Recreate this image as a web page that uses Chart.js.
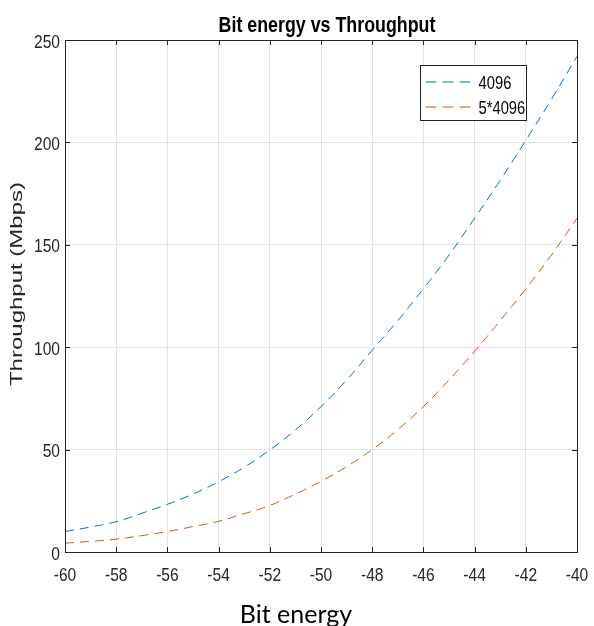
<!DOCTYPE html>
<html lang="en">
<head>
<meta charset="UTF-8">
<title>Bit energy vs Throughput</title>
<script src="https://cdn.jsdelivr.net/npm/chart.js"></script>
<style>
  body { margin: 0; background: #fff; }
</style>
</head>
<body>
<canvas id="myChart" width="594" height="626"></canvas>
<script>
// values
const bitEnergy = [-60, -59, -58, -57, -56, -55, -54, -53, -52, -51, -50,
                   -49, -48, -47, -46, -45, -44, -43, -42, -41, -40];
const tput4096 = [10, 12.2, 14.8, 18.9, 23.3, 28.3, 34.3, 41.4, 49.8, 59.6, 71,
                  84, 98.5, 113, 128.5, 145, 163, 181.5, 201, 221, 242];
const tput5x4096 = [4.3, 5.2, 6.3, 8, 10, 12.4, 15, 18.7, 22.7, 28.3, 34.5,
                    41.7, 50, 59.8, 71, 84, 98, 113, 128.5, 145, 163];
const seriesLabels = ['4096', '5*4096'];
const xTicks = [-60, -58, -56, -54, -52, -50, -48, -46, -44, -42, -40];
const yTicks = [0, 50, 100, 150, 200, 250];

const sans = '"Liberation Sans", Arial, sans-serif';

// squeezed text, the reference text is narrow like Arial Narrow
function narrowText(ctx, text, x, y, font, align, squeeze) {
    ctx.save();
    ctx.translate(x, y);
    ctx.scale(squeeze, 1);
    ctx.font = font;
    ctx.textAlign = align;
    ctx.textBaseline = 'alphabetic';
    ctx.fillText(text, 0, 0);
    ctx.restore();
}

// MATLAB-like box, inward ticks, tick labels, titles and legend
const matlabAxes = {
    id: 'matlabAxes',
    afterDraw(chart) {
        const { ctx, chartArea: a, scales: { x, y } } = chart;
        ctx.save();
        ctx.strokeStyle = '#222';
        ctx.lineWidth = 1;
        ctx.beginPath();
        xTicks.forEach(v => {
            const px = Math.round(x.getPixelForValue(v)) + 0.5;
            ctx.moveTo(px, a.bottom); ctx.lineTo(px, a.bottom - 5);
            ctx.moveTo(px, a.top); ctx.lineTo(px, a.top + 5);
        });
        yTicks.forEach(v => {
            const py = Math.round(y.getPixelForValue(v)) + 0.5;
            ctx.moveTo(a.left, py); ctx.lineTo(a.left + 5, py);
            ctx.moveTo(a.right, py); ctx.lineTo(a.right - 5, py);
        });
        ctx.stroke();
        ctx.strokeRect(Math.round(a.left) + 0.5, Math.round(a.top) + 0.5,
                       Math.round(a.width), Math.round(a.height));

        // tick labels
        ctx.fillStyle = '#262626';
        xTicks.forEach(v => {
            narrowText(ctx, String(v), x.getPixelForValue(v), a.bottom + 29, '19px ' + sans, 'center', 0.82);
        });
        yTicks.forEach(v => {
            narrowText(ctx, String(v), a.left - 5, y.getPixelForValue(v) + 7.5, '19px ' + sans, 'right', 0.82);
        });

        // title
        ctx.fillStyle = '#000';
        narrowText(ctx, 'Bit energy vs Throughput', 327, 31.5, 'bold 22px ' + sans, 'center', 0.81);

        // x label
        ctx.font = '25px Lato, Carlito, sans-serif';
        ctx.textAlign = 'center';
        ctx.textBaseline = 'alphabetic';
        ctx.fillText('Bit energy', 296, 623);

        // y label (squeezed like the reference)
        ctx.save();
        ctx.translate(17, 284);
        ctx.rotate(-Math.PI / 2);
        ctx.scale(1, 0.72);
        ctx.fillStyle = '#262626';
        ctx.font = '24px ' + sans;
        ctx.textAlign = 'center';
        ctx.textBaseline = 'middle';
        ctx.fillText('Throughput (Mbps)', 0, 0);
        ctx.restore();

        // legend
        const lx = 420.5, ly = 65.5, lw = 106, lh = 55;
        ctx.fillStyle = '#fff';
        ctx.fillRect(lx, ly, lw, lh);
        ctx.strokeStyle = '#222';
        ctx.strokeRect(lx, ly, lw, lh);
        chart.data.datasets.forEach((ds, i) => {
            const ry = ly + 16.5 + i * 25;
            ctx.strokeStyle = ds.borderColor;
            ctx.setLineDash([11, 6]);
            ctx.beginPath();
            ctx.moveTo(lx + 5, ry); ctx.lineTo(lx + 52, ry);
            ctx.stroke();
            ctx.setLineDash([]);
            ctx.fillStyle = '#000';
            narrowText(ctx, ds.label, lx + 58, ry + 6.5, '18px ' + sans, 'left', 0.82);
        });
        ctx.restore();
    }
};

const ctx = document.getElementById('myChart').getContext('2d');
const myChart = new Chart(ctx, {
    type: 'line',
    data: {
        datasets: [{
            label: seriesLabels[0],
            data: bitEnergy.map((v, i) => ({ x: v, y: tput4096[i] })),
            borderColor: '#0072BD',
            borderWidth: 1,
            borderDash: [9, 6],
            pointRadius: 0,
            tension: 0.4,
            fill: false
        }, {
            label: seriesLabels[1],
            data: bitEnergy.map((v, i) => ({ x: v, y: tput5x4096[i] })),
            borderColor: '#D95319',
            borderWidth: 1,
            borderDash: [9, 6],
            pointRadius: 0,
            tension: 0.4,
            fill: false
        }]
    },
    options: {
        responsive: false,
        animation: false,
        layout: { padding: { top: 40, right: 17, left: 0, bottom: 0 } },
        plugins: {
            legend: { display: false },
            title: { display: false },
            tooltip: { enabled: false }
        },
        scales: {
            x: {
                type: 'linear',
                min: -60,
                max: -40,
                afterBuildTicks: s => { s.ticks = xTicks.map(v => ({ value: v })); },
                afterFit: s => { s.height = 74; s.paddingLeft = 0; s.paddingRight = 0; },
                grid: { color: '#e3e3e3', drawTicks: false },
                border: { display: false },
                ticks: { display: false }
            },
            y: {
                min: 0,
                max: 250,
                afterBuildTicks: s => { s.ticks = yTicks.map(v => ({ value: v })); },
                afterFit: s => { s.width = 65; s.paddingTop = 0; s.paddingBottom = 0; },
                grid: { color: '#e3e3e3', drawTicks: false },
                border: { display: false },
                ticks: { display: false }
            }
        }
    },
    plugins: [matlabAxes]
});
</script>
</body>
</html>
